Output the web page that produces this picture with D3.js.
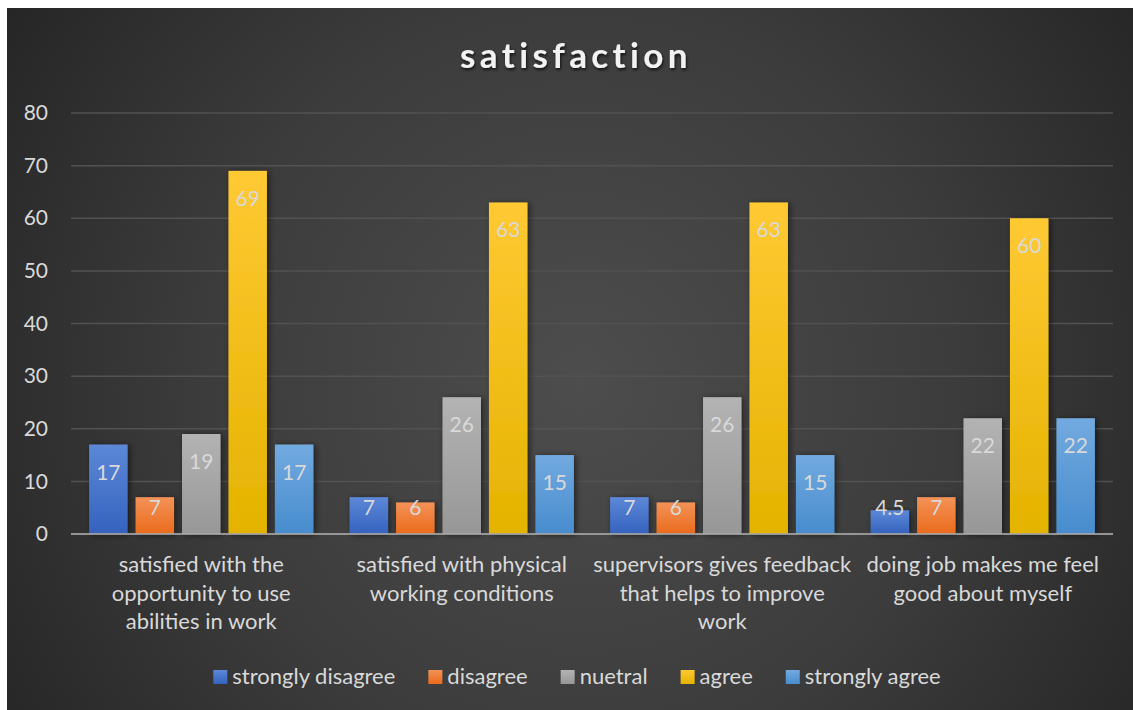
<!DOCTYPE html>
<html>
<head>
<meta charset="utf-8">
<script src="https://cdn.jsdelivr.net/npm/d3@7/dist/d3.min.js"></script>
<style>
  html, body { margin: 0; padding: 0; background: #ffffff; }
  svg { display: block; }
  text { font-family: Lato, "Open Sans", sans-serif; }
</style>
</head>
<body>
<div id="chart"></div>
<script>
// Survey results: share of responses per satisfaction statement
const categories = [
  "satisfied with the\nopportunity to use\nabilities in work",
  "satisfied with physical\nworking conditions",
  "supervisors gives feedback\nthat helps to improve\nwork",
  "doing job makes me feel\ngood about myself"
];
const seriesNames = ["strongly disagree", "disagree", "nuetral", "agree", "strongly agree"];
const stronglyDisagree = [17, 7, 7, 4.5];
const disagree = [7, 6, 6, 7];
const nuetral = [19, 26, 26, 22];
const agree = [69, 63, 63, 60];
const stronglyAgree = [17, 15, 15, 22];
const yTicks = [0, 10, 20, 30, 40, 50, 60, 70, 80];
const title = "satisfaction";

const seriesValues = [stronglyDisagree, disagree, nuetral, agree, stronglyAgree];
const palette = [
  ["#5d88d8", "#3462bd"],
  ["#f39257", "#ea6b1c"],
  ["#b3b3b3", "#979797"],
  ["#ffc933", "#e4b300"],
  ["#72aae0", "#478ccd"]
];

const W = 1133, H = 710;
const frame = { x: 7, y: 8, w: 1126, h: 702 };
const plot = { left: 71, right: 1113, top: 113, bottom: 534 };

const svg = d3.select("#chart").append("svg")
  .attr("width", W).attr("height", H);

const defs = svg.append("defs");

const bg = defs.append("radialGradient").attr("id", "bg")
  .attr("gradientUnits", "userSpaceOnUse")
  .attr("cx", 580).attr("cy", 380).attr("r", 680);
bg.append("stop").attr("offset", "0%").attr("stop-color", "#4d4d4d");
bg.append("stop").attr("offset", "55%").attr("stop-color", "#3c3c3c");
bg.append("stop").attr("offset", "100%").attr("stop-color", "#262626");

palette.forEach((c, i) => {
  const g = defs.append("linearGradient").attr("id", "bar" + i)
    .attr("x1", 0).attr("y1", 0).attr("x2", 0).attr("y2", 1);
  g.append("stop").attr("offset", "0%").attr("stop-color", c[0]);
  g.append("stop").attr("offset", "100%").attr("stop-color", c[1]);
});

const shadow = defs.append("filter").attr("id", "shadow")
  .attr("x", "-30%").attr("y", "-10%").attr("width", "160%").attr("height", "130%");
shadow.append("feDropShadow").attr("dx", 2).attr("dy", 1).attr("stdDeviation", 3)
  .attr("flood-color", "#000").attr("flood-opacity", 0.55);

const titleShadow = defs.append("filter").attr("id", "tshadow")
  .attr("x", "-10%").attr("y", "-30%").attr("width", "120%").attr("height", "160%");
titleShadow.append("feDropShadow").attr("dx", 1).attr("dy", 2).attr("stdDeviation", 1.5)
  .attr("flood-color", "#000").attr("flood-opacity", 0.7);

svg.append("rect")
  .attr("x", frame.x).attr("y", frame.y)
  .attr("width", frame.w).attr("height", frame.h)
  .attr("fill", "url(#bg)");

// Scales
const y = d3.scaleLinear().domain([0, 80]).range([plot.bottom, plot.top]);
const x0 = d3.scaleBand().domain(categories).range([plot.left, plot.right]).padding(0);
const x1 = d3.scaleBand().domain(seriesNames).range([0, x0.bandwidth()])
  .paddingInner(0.172).paddingOuter(0.39);

// Gridlines
svg.append("g").selectAll("line").data(yTicks.filter(t => t > 0)).join("line")
  .attr("x1", plot.left).attr("x2", plot.right)
  .attr("y1", d => y(d)).attr("y2", d => y(d))
  .attr("stroke", "#525252").attr("stroke-width", 1.5);

// Y axis labels
const yAxis = svg.append("g")
  .attr("transform", `translate(${plot.left - 23},0)`)
  .call(d3.axisLeft(y).tickValues(yTicks).tickSize(0).tickPadding(0));
yAxis.select(".domain").remove();
yAxis.selectAll("text")
  .attr("fill", "#d9d9d9")
  .style("font-size", "21px")
  .style("font-family", "Lato, 'Open Sans', sans-serif");

// Bars
const groups = svg.append("g").selectAll("g").data(categories).join("g")
  .attr("transform", d => `translate(${x0(d)},0)`);

const cells = groups.selectAll("g.cell")
  .data((c, ci) => seriesNames.map((s, si) => ({ s, si, v: seriesValues[si][ci] })))
  .join("g").attr("class", "cell");

cells.append("rect")
  .attr("x", d => x1(d.s))
  .attr("width", x1.bandwidth())
  .attr("y", d => y(d.v))
  .attr("height", d => y(0) - y(d.v))
  .attr("fill", d => `url(#bar${d.si})`)
  .attr("filter", "url(#shadow)");

// Baseline
svg.append("line")
  .attr("x1", plot.left).attr("x2", plot.right)
  .attr("y1", y(0)).attr("y2", y(0))
  .attr("stroke", "#a6a6a6").attr("stroke-width", 2).attr("stroke-opacity", 0.85);

// Value labels, inside the bar end
cells.append("text")
  .attr("x", d => x1(d.s) + x1.bandwidth() / 2)
  .attr("y", d => Math.min(y(d.v) + 35, y(0) - 19))
  .attr("text-anchor", "middle")
  .attr("fill", "#d9d9d9")
  .style("font-size", "21px")
  .text(d => d.v);

// Category labels
const catLabels = svg.append("g").selectAll("text").data(categories).join("text")
  .attr("x", d => x0(d) + x0.bandwidth() / 2)
  .attr("y", 572)
  .attr("text-anchor", "middle")
  .attr("fill", "#d9d9d9")
  .style("font-size", "22px");
catLabels.selectAll("tspan").data(d => d.split("\n")).join("tspan")
  .attr("x", function () { return d3.select(this.parentNode).attr("x"); })
  .attr("dy", (d, i) => i === 0 ? 0 : 28.5)
  .text(d => d);

// Title
svg.append("text")
  .attr("x", 576).attr("y", 68)
  .attr("text-anchor", "middle")
  .attr("fill", "#f2f2f2")
  .attr("filter", "url(#tshadow)")
  .style("font-size", "35px")
  .style("font-weight", "bold")
  .style("letter-spacing", "4.4px")
  .text(title);

// Legend
const legendGap = 33;
const legend = svg.append("g");
const items = legend.selectAll("g").data(seriesNames).join("g");
items.append("rect")
  .attr("width", 14).attr("height", 14)
  .attr("y", 670)
  .attr("fill", (d, i) => `url(#bar${i})`);
items.append("text")
  .attr("x", 19).attr("y", 684)
  .attr("fill", "#d9d9d9")
  .style("font-size", "22px")
  .text(d => d);
let cursor = 0;
const offsets = [];
items.each(function () {
  offsets.push(cursor);
  const w = d3.select(this).select("text").node().getComputedTextLength();
  cursor += 19 + w + legendGap;
});
const total = cursor - legendGap;
const startX = 577 - total / 2;
items.attr("transform", (d, i) => `translate(${startX + offsets[i]},0)`);
</script>
</body>
</html>
